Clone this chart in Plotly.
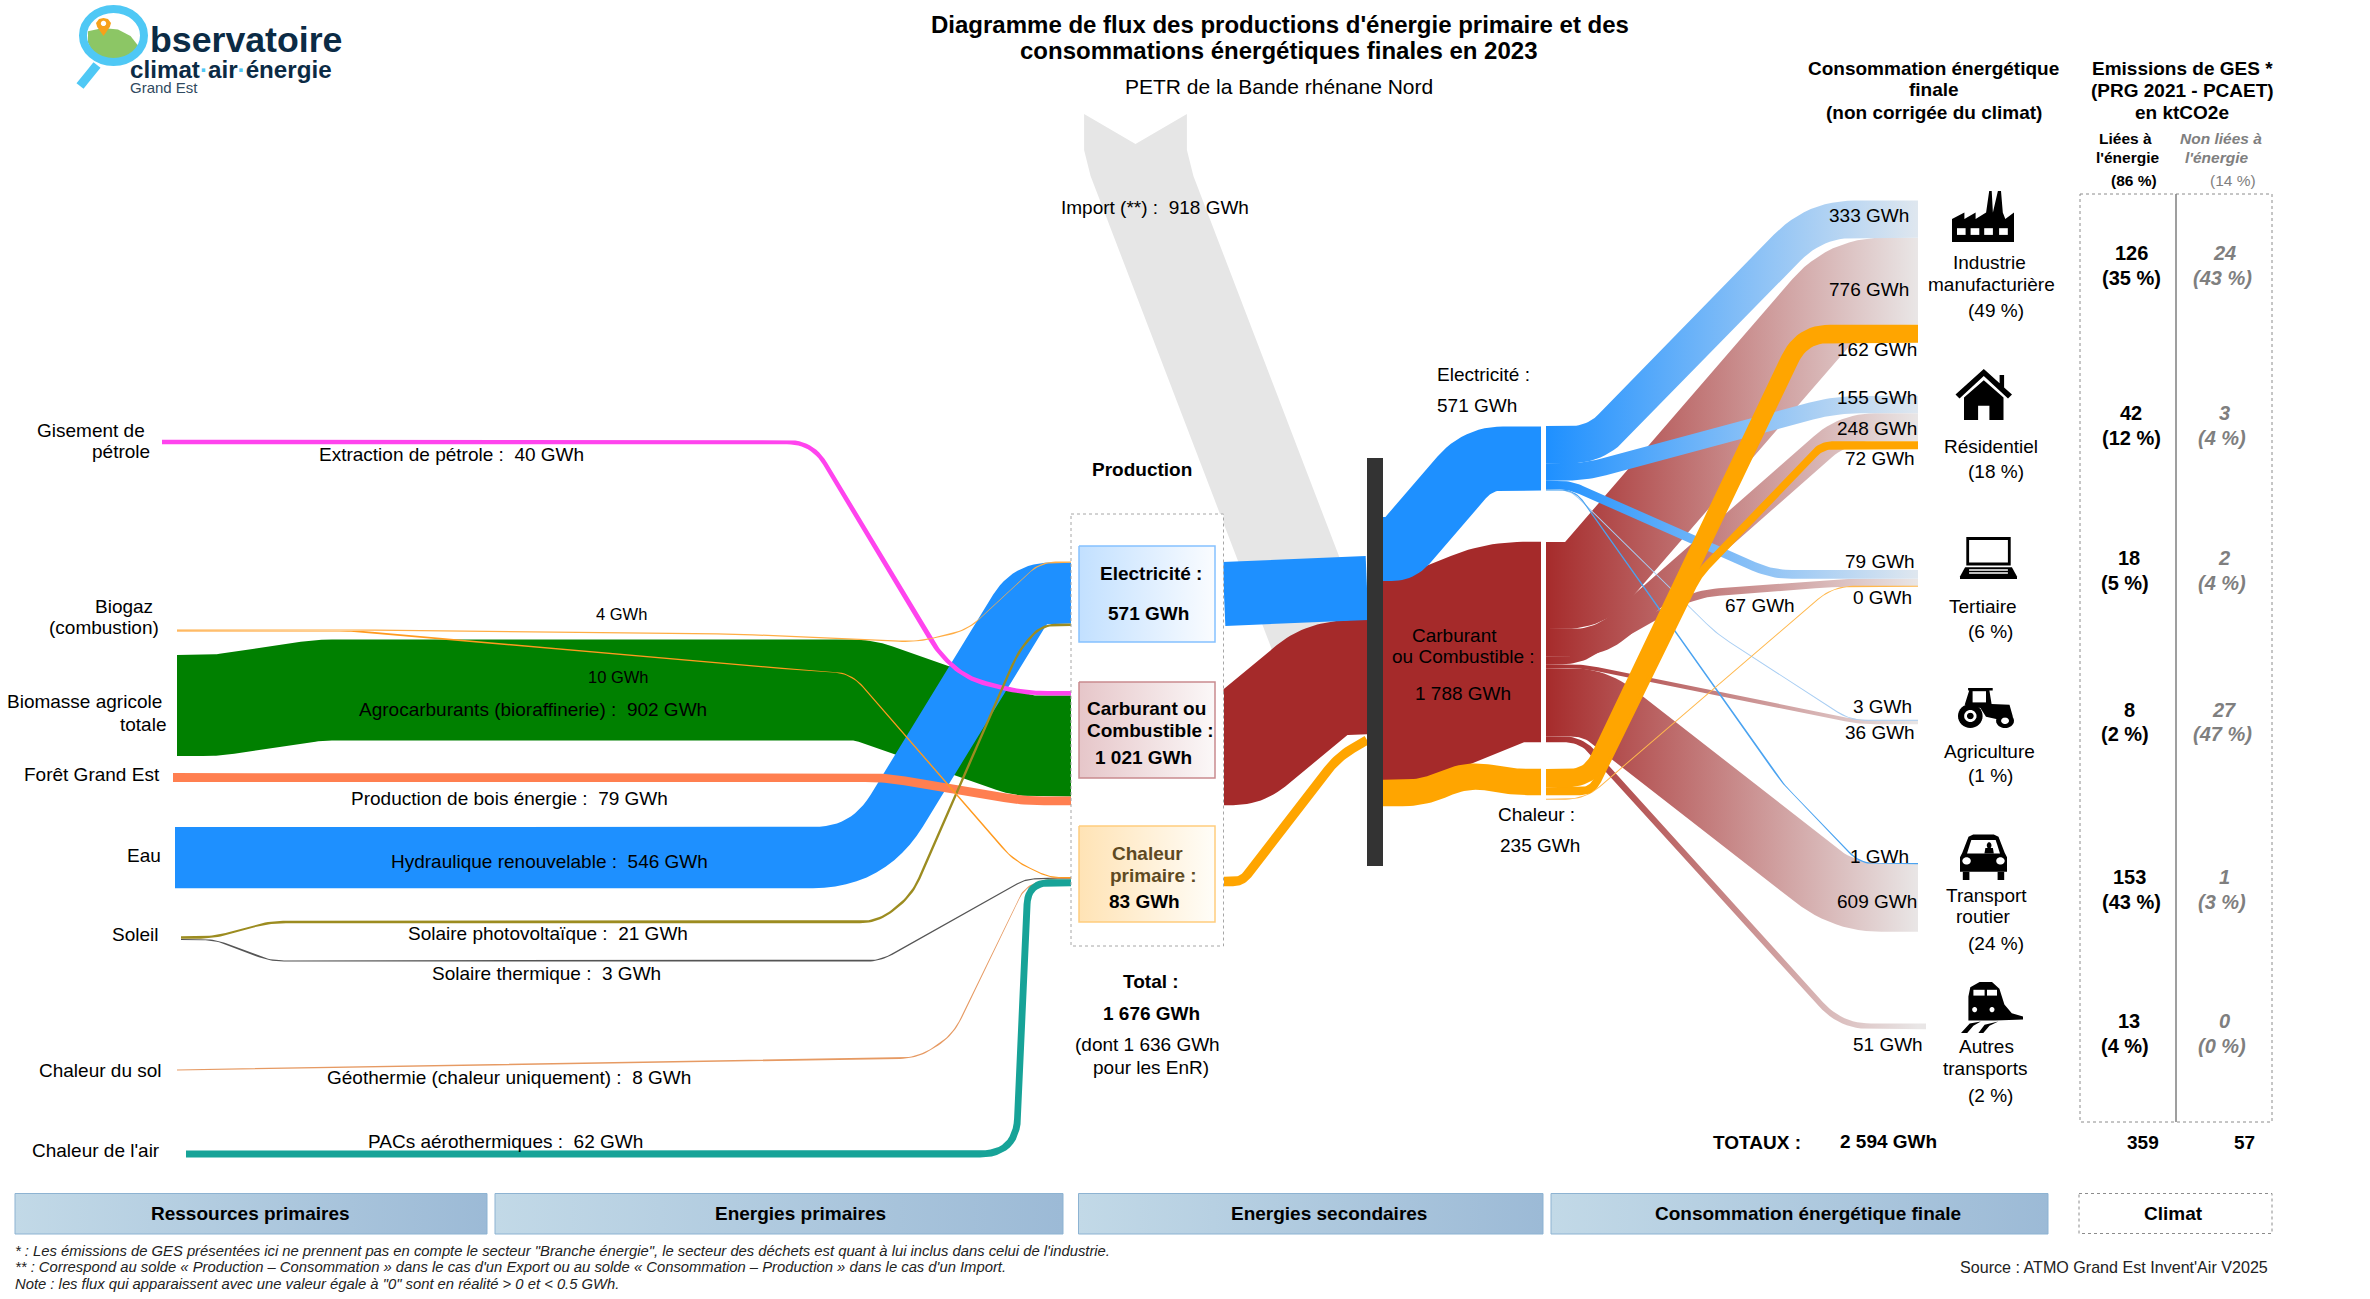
import math
import plotly.graph_objects as go

# ---------- data (GWh, ktCO2e) ----------
primary_names = ["Extraction de pétrole", "Agrocarburants (bioraffinerie)", "Production de bois énergie",
                 "Hydraulique renouvelable", "Solaire photovoltaïque", "Solaire thermique",
                 "Géothermie (chaleur uniquement)", "PACs aérothermiques"]
primary_values = [40, 902, 79, 546, 21, 3, 8, 62]
biogas_to_elec = 4
biogas_to_heat = 10
production_elec = 571
production_fuel = 1021
production_heat = 83
production_total = 1676
production_enr = 1636
import_value = 918
import_to_fuel = 767
import_to_heat = 152
final_elec = 571
final_fuel = 1788
final_heat = 235
sectors = ["Industrie manufacturière", "Résidentiel", "Tertiaire", "Agriculture", "Transport routier", "Autres transports"]
sector_shares = [49, 18, 6, 1, 24, 2]
elec_by_sector = [333, 155, 79, 3, 1]
fuel_by_sector = [776, 248, 67, 36, 609, 51]
heat_by_sector = [162, 72, 0]
total_consumption = 2594
ges_energy = [126, 42, 18, 8, 153, 13]
ges_energy_pct = [35, 12, 5, 2, 43, 4]
ges_other = [24, 3, 2, 27, 1, 0]
ges_other_pct = [43, 4, 4, 47, 3, 0]
ges_energy_total = 359
ges_other_total = 57

# ---------- scale and colours ----------
GWH_PX = 0.112
FONT = "Liberation Sans"
BLUE, BROWN, ORANGE, GREEN = "#1E90FF", "#A52A2A", "#FFA500", "#008000"
BLUE_FADE = [[0, "#1E90FF"], [1, "#DFE7EF"]]
BROWN_FADE = [[0, "#A62B2B"], [1, "#E9E6E6"]]

fig = go.Figure()


def fmt(v):
    s = f"{v:,}".replace(",", " ")
    return s


def smooth(points, r):
    out = [points[0]]
    for i in range(1, len(points) - 1):
        p0, p1, p2 = points[i - 1], points[i], points[i + 1]
        l1 = math.dist(p0, p1)
        l2 = math.dist(p1, p2)
        d = min(r, l1 / 2, l2 / 2)
        a = (p1[0] + (p0[0] - p1[0]) * d / l1, p1[1] + (p0[1] - p1[1]) * d / l1)
        b = (p1[0] + (p2[0] - p1[0]) * d / l2, p1[1] + (p2[1] - p1[1]) * d / l2)
        for k in range(13):
            t = k / 12
            out.append(((1 - t) ** 2 * a[0] + 2 * t * (1 - t) * p1[0] + t ** 2 * b[0],
                        (1 - t) ** 2 * a[1] + 2 * t * (1 - t) * p1[1] + t ** 2 * b[1]))
    out.append(points[-1])
    return out


def ribbon(value, start, end, route, color=None, fade=None, r=30, min_w=1.2, span=(1546, 1918)):
    """Band whose thickness is value*GWH_PX; 'S'/'E' in a route stand for the stacked start/end centre."""
    w = max(value * GWH_PX, min_w)
    pts = [(x, start if y == "S" else end if y == "E" else y) for x, y in route]
    c = smooth(pts, r)
    up, lo = [], []
    for i, (x, y) in enumerate(c):
        a = c[max(i - 1, 0)]
        b = c[min(i + 1, len(c) - 1)]
        dx, dy = b[0] - a[0], b[1] - a[1]
        n = math.hypot(dx, dy) or 1
        nx, ny = dy / n, -dx / n
        up.append((x + nx * w / 2, y + ny * w / 2))
        lo.append((x - nx * w / 2, y - ny * w / 2))
    poly = up + lo[::-1] + up[:1]
    kw = dict(fillcolor=color)
    if fade:
        kw = dict(fillgradient=dict(type="horizontal", colorscale=fade, start=span[0], stop=span[1]))
    fig.add_trace(go.Scatter(x=[p[0] for p in poly], y=[p[1] for p in poly], mode="lines",
                             line=dict(width=0), fill="toself", hoverinfo="skip", showlegend=False, **kw))


def stack(top, values):
    centres, y = [], top
    for v in values:
        centres.append(y + v * GWH_PX / 2)
        y += v * GWH_PX
    return centres


def rect(x0, y0, x1, y1, fill=None, fade=None, line=None, lw=1, dash="solid"):
    kw = dict(fillcolor=fill or "rgba(0,0,0,0)")
    if fade:
        kw = dict(fillgradient=dict(type="horizontal", colorscale=fade))
    fig.add_trace(go.Scatter(x=[x0, x1, x1, x0, x0], y=[y0, y0, y1, y1, y0], mode="lines",
                             line=dict(width=lw if line else 0, color=line or "rgba(0,0,0,0)", dash=dash),
                             fill="toself", hoverinfo="skip", showlegend=False, **kw))


notes = []


def T(x, y, s, size=19, bold=False, italic=False, color="#000000", anchor="center"):
    if bold:
        s = f"<b>{s}</b>"
    if italic:
        s = f"<i>{s}</i>"
    notes.append(dict(x=x, y=y, xref="x", yref="y", text=s, showarrow=False, xanchor=anchor, yanchor="middle",
                      font=dict(family=FONT, size=size, color=color), borderpad=0, borderwidth=0))


# ---------- import band (sheared: its horizontal width is the value) ----------
iw = import_value * GWH_PX
icx = [1135.5, 1135.5, 1142, 1335]
icy = [145, 150, 176, 680]
lx = [c - iw / 2 for c in icx]
rx = [c + iw / 2 for c in icx]
fig.add_trace(go.Scatter(x=[lx[0], icx[0]] + [rx[0]] + rx + lx[::-1],
                         y=[114, 144, 114] + icy + icy[::-1],
                         mode="lines", line=dict(width=0), fill="toself", fillcolor="#E6E6E6",
                         hoverinfo="skip", showlegend=False))

# ---------- primary flows ----------
pe = stack(562, [biogas_to_elec, primary_values[3], primary_values[4]])
pc = stack(691, primary_values[:3])
ph = stack(877, [biogas_to_heat, primary_values[5], primary_values[6], primary_values[7]])
PX = 1071

ribbon(primary_values[1], 655 + primary_values[1] * GWH_PX / 2, pc[1],
       [(177, "S"), (215, "S"), (320, 690), (864, 690), (1024, "E"), (PX, "E")], color=GREEN, r=12)
ribbon(primary_values[3], 827 + primary_values[3] * GWH_PX / 2, pe[1],
       [(175, "S"), (868, "S"), (1030, "E"), (PX, "E")], color=BLUE, r=55)
ribbon(primary_values[2], 777.5, pc[2], [(173, "S"), (885, "S"), (1024, "E"), (PX, "E")], color="#FF7F50", r=20)
ribbon(primary_values[0], 442, pc[0],
       [(162, "S"), (812, "S"), (940, 655), (968, 679), (1024, "E"), (PX, "E")], color="#FF44EE", r=25)
ribbon(primary_values[4], 937.5, pe[2],
       [(181, "S"), (215, "S"), (268, 922), (878, 922), (912, 895), (1019, 650), (1042, "E"), (PX, "E")],
       color="#9C8C20", r=18, min_w=2.2)
ribbon(primary_values[5], 939.5, ph[1],
       [(181, "S"), (215, "S"), (270, 961), (880, 961), (1024, 880), (1040, "E"), (PX, "E")],
       color="#555555", r=14)
ribbon(primary_values[6], 1070, ph[2],
       [(177, "S"), (918, 1058), (953, 1035), (1024, 888), (1046, "E"), (PX, "E")], color="#E69A63", r=18)
ribbon(biogas_to_elec, 630, pe[0],
       [(177, "S"), (357, "S"), (735, 634), (917, 642), (968, 630), (1040, "E"), (PX, "E")], color="#FFAD45", r=18)
ribbon(biogas_to_heat, 631, ph[0],
       [(177, "S"), (357, "S"), (571, 650), (800, 670), (851, 673), (1014, 861), (1050, "E"), (PX, "E")],
       color="#FF9A1F", r=18)
ribbon(primary_values[7], 1154, ph[3],
       [(186, "S"), (1016, "S"), (1028, "E"), (PX, "E")], color="#17A398", r=36)

# ---------- production -> bar -> secondary energies ----------
ribbon(production_fuel, 748, 677, [(1224, "S"), (1242, "S"), (1322, 682), (1345, "E"), (1367, "E")], color=BROWN, r=28)
ribbon(production_elec, 594, 588, [(1224, "S"), (1367, "E")], color=BLUE)
ribbon(production_heat, 881.5, 740, [(1224, "S"), (1242, "S"), (1338, 757), (1367, "E")], color=ORANGE, r=22)

ribbon(final_fuel, 680.5, 642, [(1383, "S"), (1410, "S"), (1505, "E"), (1541, "E")], color=BROWN, r=35)
ribbon(final_elec, 549, 458.5, [(1383, "S"), (1400, "S"), (1478, "E"), (1541, "E")], color=BLUE, r=25)
ribbon(final_heat, 793, 782, [(1383, "S"), (1422, "S"), (1468, 774), (1514, "E"), (1541, "E")], color=ORANGE, r=22)

# ---------- final consumption ----------
e_s = stack(426, elec_by_sector)
c_s = stack(542, fuel_by_sector)
h_s = stack(769, heat_by_sector)
ind = stack(200.5, [elec_by_sector[0], fuel_by_sector[0], heat_by_sector[0]])
res = stack(396, [elec_by_sector[1], fuel_by_sector[1], heat_by_sector[1]])
ter = stack(570, [elec_by_sector[2], fuel_by_sector[2], heat_by_sector[2]])
agr = stack(720, [elec_by_sector[3], fuel_by_sector[3]])
tra = stack(863.5, [elec_by_sector[4], fuel_by_sector[4]])
aut = 1023.5 + fuel_by_sector[5] * GWH_PX / 2
X0, X1 = 1546, 1918

ribbon(fuel_by_sector[4], c_s[4], tra[1], [(X0, "S"), (1595, "S"), (1845, "E"), (X1, "E")], fade=BROWN_FADE, r=45)
ribbon(fuel_by_sector[5], c_s[5], aut, [(X0, "S"), (1581, "S"), (1841, "E"), (1926, "E")], fade=BROWN_FADE, r=30)
ribbon(fuel_by_sector[3], c_s[3], agr[1], [(X0, "S"), (1583, "S"), (1860, "E"), (X1, "E")], fade=BROWN_FADE, r=15)
ribbon(fuel_by_sector[2], c_s[2], ter[1], [(X0, "S"), (1578, "S"), (1694, 594), (1840, "E"), (X1, "E")], fade=BROWN_FADE, r=25)
ribbon(fuel_by_sector[1], c_s[1], res[1], [(X0, "S"), (1600, "S"), (1845, "E"), (X1, "E")], fade=BROWN_FADE, r=30)
ribbon(fuel_by_sector[0], c_s[0], ind[1], [(X0, "S"), (1585, "S"), (1848, "E"), (X1, "E")], fade=BROWN_FADE, r=50)
ribbon(elec_by_sector[0], e_s[0], ind[0], [(X0, "S"), (1595, "S"), (1815, "E"), (X1, "E")], fade=BLUE_FADE, r=40)
ribbon(elec_by_sector[1], e_s[1], res[0], [(X0, "S"), (1585, "S"), (1835, "E"), (X1, "E")], fade=BLUE_FADE, r=25)
ribbon(elec_by_sector[2], e_s[2], ter[0], [(X0, "S"), (1570, "S"), (1772, "E"), (X1, "E")], fade=BLUE_FADE, r=20)
ribbon(elec_by_sector[3], e_s[3], agr[0], [(X0, "S"), (1570, "S"), (1717, 634), (1850, "E"), (X1, "E")], color="#A9CEF3", r=15, min_w=1)
ribbon(elec_by_sector[4], e_s[4], tra[0], [(X0, "S"), (1575, "S"), (1783, 784), (1860, "E"), (X1, "E")], color="#4BA3F0", r=15, min_w=1.2)
ribbon(heat_by_sector[2], h_s[2] + 4, ter[2], [(X0, "S"), (1585, "S"), (1833, "E"), (X1, "E")], color="#FFB84D", r=20, min_w=1)
ribbon(heat_by_sector[1], h_s[1], res[2], [(X0, "S"), (1592, "S"), (1698, 575), (1822, "E"), (X1, "E")], color=ORANGE, r=12)
ribbon(heat_by_sector[0], h_s[0], ind[2], [(X0, "S"), (1590, "S"), (1802, "E"), (X1, "E")], color=ORANGE, r=28)

# ---------- frames, boxes, bar ----------
rect(1367, 458, 1383, 866, fill="#333333")
rect(1071, 514, 1223.5, 946, fill="#FFFFFF", line="#A6A6A6", dash="dot")
rect(1079, 546, 1215, 642, fade=[[0, "#C2E0FF"], [1, "#FAFCFF"]], line="#85C1FF", lw=1.5)
rect(1079, 682, 1215, 778, fade=[[0, "#E6C6C9"], [1, "#FBF8F8"]], line="#C98A8F", lw=1.5)
rect(1079, 826, 1215, 922, fade=[[0, "#FFE3B5"], [1, "#FFFDF8"]], line="#FFCD7D", lw=1.5)
BAR = [[0, "#C2D9E7"], [1, "#9CBAD6"]]
for a, b in [(15, 487), (495, 1063), (1078.5, 1543), (1551, 2048)]:
    rect(a, 1193.5, b, 1234, fade=BAR, line="#8DB3D2", lw=1)
rect(2079, 1193.5, 2272, 1233.5, fill="#FFFFFF", line="#8C8C8C", dash="dot")
rect(2080, 194, 2272, 1122, line="#8C8C8C", dash="dot")
fig.add_trace(go.Scatter(x=[2176, 2176], y=[194, 1122], mode="lines", line=dict(color="#7F7F7F", width=1.5),
                         hoverinfo="skip", showlegend=False))

# ---------- texts ----------
T(1280, 24, "Diagramme de flux des productions d'énergie primaire et des", 24, True)
T(1279, 50.6, "consommations énergétiques finales en 2023", 24, True)
T(1279, 86, "PETR de la Bande rhénane Nord", 21)

T(91, 430, "Gisement de"); T(121, 451, "pétrole")
T(451.5, 454, f"{primary_names[0]} :  {primary_values[0]} GWh")
T(621, 614, f"{biogas_to_elec} GWh", 16.5)
T(124, 606, "Biogaz"); T(104, 627, "(combustion)")
T(618, 677, f"{biogas_to_heat} GWh", 16.5)
T(533, 709, f"{primary_names[1]} :  {primary_values[1]} GWh")
T(84, 701, "Biomasse agricole"); T(143, 724, "totale")
T(92, 774, "Forêt Grand Est")
T(509, 798, f"{primary_names[2]} :  {primary_values[2]} GWh")
T(144, 855, "Eau")
T(549.5, 861.5, f"{primary_names[3]} :  {primary_values[3]} GWh")
T(135, 934, "Soleil")
T(547.5, 933.5, f"{primary_names[4]} :  {primary_values[4]} GWh")
T(546, 973.7, f"{primary_names[5]} :  {primary_values[5]} GWh")
T(100.5, 1070.5, "Chaleur du sol")
T(509, 1077.6, f"{primary_names[6]} :  {primary_values[6]} GWh")
T(95.5, 1150, "Chaleur de l'air")
T(505.6, 1141, f"{primary_names[7]} :  {primary_values[7]} GWh")

T(1155, 207, f"Import (**) :  {import_value} GWh")
T(1142, 469, "Production", bold=True)
T(1151, 573, "Electricité :", bold=True); T(1148.5, 613.6, f"{production_elec} GWh", bold=True)
T(1146, 708, "Carburant ou", bold=True); T(1150, 730, "Combustible :", bold=True)
T(1143, 757, f"{fmt(production_fuel)} GWh", bold=True)
T(1147, 853, "Chaleur", bold=True, color="#5E4A22"); T(1153.6, 875, "primaire :", bold=True, color="#5E4A22")
T(1144, 901, f"{production_heat} GWh", bold=True)
T(1151, 981.5, "Total :", bold=True); T(1151.5, 1013, f"{fmt(production_total)} GWh", bold=True)
T(1147, 1044.5, f"(dont {fmt(production_enr)} GWh"); T(1151, 1067, "pour les EnR)")
T(1483, 374, "Electricité :"); T(1476.5, 405.5, f"{final_elec} GWh")
T(1454.6, 635.6, "Carburant"); T(1463, 656, "ou Combustible :"); T(1463, 693.5, f"{fmt(final_fuel)} GWh")
T(1536, 814, "Chaleur :"); T(1540, 845, f"{final_heat} GWh")

flow_labels = [(1869, 215, elec_by_sector[0]), (1869, 289, fuel_by_sector[0]), (1877, 349, heat_by_sector[0]),
               (1877, 397.6, elec_by_sector[1]), (1877, 428.6, fuel_by_sector[1]), (1880, 458.5, heat_by_sector[1]),
               (1880, 561.4, elec_by_sector[2]), (1882, 597, heat_by_sector[2]), (1760, 605.4, fuel_by_sector[2]),
               (1882, 706, elec_by_sector[3]), (1880, 732.5, fuel_by_sector[3]), (1879.4, 856, elec_by_sector[4]),
               (1877, 901, fuel_by_sector[4]), (1888, 1044, fuel_by_sector[5])]
for x, y, v in flow_labels:
    T(x, y, f"{v} GWh")

T(1989.4, 262.5, "Industrie"); T(1991, 284, "manufacturière"); T(1995.6, 310.7, f"({sector_shares[0]} %)")
T(1991, 446.6, sectors[1]); T(1995.6, 471.5, f"({sector_shares[1]} %)")
T(1983, 606.6, sectors[2]); T(1990, 631.4, f"({sector_shares[2]} %)")
T(1989, 751, sectors[3]); T(1990, 775, f"({sector_shares[3]} %)")
T(1986.7, 895, "Transport"); T(1983, 916, "routier"); T(1995.6, 943, f"({sector_shares[4]} %)")
T(1986.7, 1046.5, "Autres"); T(1985, 1068, "transports"); T(1990, 1095, f"({sector_shares[5]} %)")

T(1933, 68, "Consommation énergétique", 19, True); T(1934, 89.5, "finale", 19, True)
T(1934, 112, "(non corrigée du climat)", 19, True)
T(2182, 68, "Emissions de GES *", 19, True); T(2182, 90, "(PRG 2021 - PCAET)", 19, True)
T(2182, 112, "en ktCO2e", 19, True)
T(2125, 138, "Liées à", 15.5, True); T(2128, 157.6, "l'énergie", 15.5, True); T(2134, 180.6, "(86 %)", 15.5, True)
GREY = "#7F7F7F"
T(2220.5, 138, "Non liées à", 15.5, True, True, GREY); T(2217, 157.6, "l'énergie", 15.5, True, True, GREY)
T(2233, 180.6, "(14 %)", 15.5, False, False, GREY)

ges_y = [(253, 278), (413, 438), (557.6, 582.5), (709.5, 734), (877, 901.7), (1021, 1045.7)]
for i, (y1, y2) in enumerate(ges_y):
    T(2131 if i == 0 else 2131 if i == 1 else 2129, y1, str(ges_energy[i]), 20, True)
    T(2131 if ges_energy_pct[i] >= 10 else 2125, y2, f"({ges_energy_pct[i]} %)", 20, True)
    T(2224, y1, str(ges_other[i]), 20, True, True, GREY)
    T(2222, y2, f"({ges_other_pct[i]} %)", 20, True, True, GREY)

T(1756.7, 1142, "TOTAUX :", 19, True); T(1888, 1141, f"{fmt(total_consumption)} GWh", 19, True)
T(2143, 1142, str(ges_energy_total), 19, True); T(2244.4, 1142, str(ges_other_total), 19, True)

for x, s in [(250, "Ressources primaires"), (800, "Energies primaires"), (1329, "Energies secondaires"),
             (1808, "Consommation énergétique finale"), (2173, "Climat")]:
    T(x, 1213, s, 19, True)

T(15, 1251, "* : Les émissions de GES présentées ici ne prennent pas en compte le secteur \"Branche énergie\", le secteur des déchets est quant à lui inclus dans celui de l'industrie.", 14.8, italic=True, color="#222222", anchor="left")
T(15, 1267, "** : Correspond au solde « Production – Consommation » dans le cas d'un Export ou au solde « Consommation – Production » dans le cas d'un Import.", 14.8, italic=True, color="#222222", anchor="left")
T(15, 1284, "Note : les flux qui apparaissent avec une valeur égale à \"0\" sont en réalité > 0 et < 0.5 GWh.", 14.8, italic=True, color="#222222", anchor="left")
T(2114, 1267, "Source : ATMO Grand Est Invent'Air V2025", 16.1, color="#222222")

# logo text
NAVY = "#0B2B45"
T(150, 40, "bservatoire", 35.7, True, color=NAVY, anchor="left")
T(130, 69, "climat<span style='color:#4FC8F5'>·</span>air<span style='color:#4FC8F5'>·</span>énergie", 24.2, True, color=NAVY, anchor="left")
T(130, 87, "Grand Est", 15, color="#2F4A60", anchor="left")

# ---------- pictograms and logo (decoration only) ----------
shapes = []


def P(box, pts, color="#000000"):
    x0, y0, x1, y1 = box
    d = "M" + " L".join(f"{x0 + u * (x1 - x0):.1f},{y0 + v * (y1 - y0):.1f}" for u, v in pts) + " Z"
    shapes.append(dict(type="path", path=d, xref="x", yref="y", fillcolor=color, line=dict(width=0), layer="above"))


def R(box, u0, v0, u1, v1, color="#000000"):
    P(box, [(u0, v0), (u1, v0), (u1, v1), (u0, v1)], color)


def C(box, u, v, ru, rv, color="#000000"):
    P(box, [(u + ru * math.cos(k * math.pi / 16), v + rv * math.sin(k * math.pi / 16)) for k in range(32)], color)


# factory
b = (1952, 191, 2014, 242)
P(b, [(0, 1), (0, .55), (.2, .42), (.2, .55), (.38, .42), (.38, .55), (.55, .42), (.6, .0), (.64, .0), (.66, .42),
      (.74, .0), (.79, .0), (.82, .42), (.86, .55), (1, .42), (1, 1)])
for u in (.08, .3, .52, .76):
    R(b, u, .73, u + .14, .86, "#FFFFFF")
# house
b = (1955.5, 369, 2012, 420)
P(b, [(0, .5), (.5, 0), (.78, .28), (.78, .12), (.86, .12), (.86, .36), (1, .5), (.93, .58), (.5, .14), (.07, .58)])
P(b, [(.15, .56), (.5, .22), (.85, .56), (.85, 1), (.6, 1), (.6, .72), (.4, .72), (.4, 1), (.15, 1)])
# laptop
b = (1960, 537, 2017, 579)
R(b, .11, 0, .89, .68)
R(b, .16, .07, .84, .61, "#FFFFFF")
P(b, [(.09, .72), (.91, .72), (1, .94), (1, 1), (0, 1), (0, .94)])
for v in (.77, .84):
    R(b, .16, v, .84, v + .035, "#FFFFFF")
# tractor
b = (1958, 688, 2014, 728)
P(b, [(.18, 0), (.62, 0), (.62, .06), (.56, .06), (.6, .4), (.92, .42), (.98, .72), (.7, .78), (.5, .72), (.4, .5), (.12, .42), (.2, .06), (.18, .06)])
R(b, .26, .08, .5, .36, "#FFFFFF")
C(b, .22, .7, .22, .3)
C(b, .22, .7, .11, .15, "#FFFFFF")
C(b, .22, .7, .06, .08)
C(b, .84, .82, .16, .18)
C(b, .84, .82, .07, .08, "#FFFFFF")
# car
b = (1960, 834.5, 2007, 880)
P(b, [(.18, .05), (.28, 0), (.72, 0), (.82, .05), (.95, .4), (1, .5), (1, .82), (0, .82), (0, .5), (.05, .4)])
P(b, [(.24, .12), (.76, .12), (.85, .42), (.15, .42)], "#FFFFFF")
C(b, .62, .24, .05, .07)
P(b, [(.52, .42), (.54, .3), (.7, .3), (.72, .42)])
C(b, .14, .58, .09, .08, "#FFFFFF")
C(b, .86, .58, .09, .08, "#FFFFFF")
R(b, .06, .82, .2, 1)
R(b, .8, .82, .94, 1)
# train
b = (1961, 981, 2023, 1033)
P(b, [(.15, .12), (.3, .02), (.5, .02), (.62, .15), (.7, .45), (.82, .62), (1, .68), (1, .74), (.55, .76), (.12, .76), (.12, .3)])
R(b, .2, .17, .38, .28, "#FFFFFF")
R(b, .42, .17, .58, .28, "#FFFFFF")
C(b, .22, .55, .04, .05, "#FFFFFF")
C(b, .5, .55, .04, .05, "#FFFFFF")
P(b, [(0, 1), (.14, .82), (.32, .78), (.2, .86), (.1, 1)])
P(b, [(.28, 1), (.38, .84), (.6, .78), (.46, .86), (.36, 1)])

# logo
shapes.append(dict(type="line", x0=97, y0=65, x1=80, y1=86, xref="x", yref="y", line=dict(color="#4FC8F5", width=9), layer="above"))
b = (88, 28, 138, 60)
P(b, [(.0, .1), (.3, 0), (.6, .05), (.85, .25), (1, .55), (.9, .8), (.6, 1), (.3, .98), (.08, .75), (0, .45)], "#8CC665")
shapes.append(dict(type="circle", x0=83, y0=9, x1=144, y1=62, xref="x", yref="y", line=dict(color="#4FC8F5", width=8), layer="above"))
b = (96, 18, 111, 36)
P(b, [(.5, 1), (.08, .5), (0, .28), (.2, .05), (.5, 0), (.8, .05), (1, .28), (.92, .5)], "#F7A11A")
C(b, .5, .3, .18, .15, "#FFFFFF")

fig.update_layout(
    width=2370, height=1299, margin=dict(l=0, r=0, t=0, b=0), showlegend=False,
    paper_bgcolor="#FFFFFF", plot_bgcolor="#FFFFFF", font=dict(family=FONT),
    xaxis=dict(visible=False, range=[0, 2370], fixedrange=True),
    yaxis=dict(visible=False, range=[1299, 0], fixedrange=True),
    annotations=notes, shapes=shapes,
)
fig.write_html("out.html", config={"displayModeBar": False},
               post_script="document.body.style.margin='0';")
